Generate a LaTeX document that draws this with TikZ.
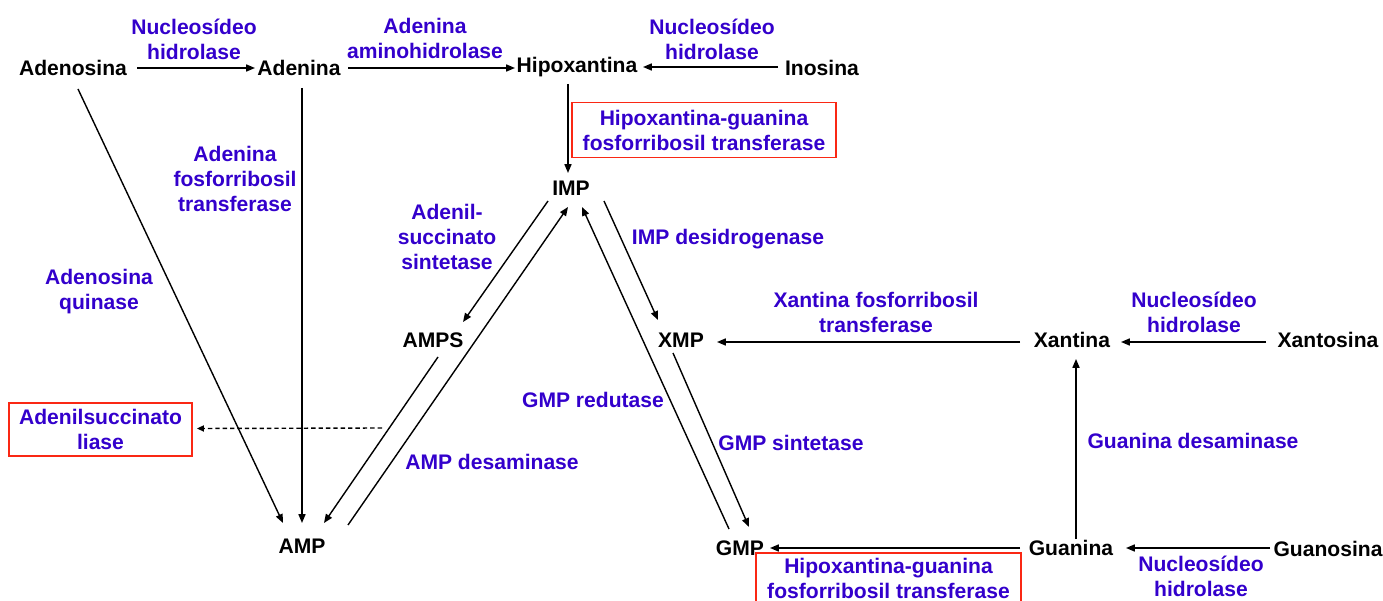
\documentclass[tikz,border=0pt]{standalone}
\usepackage{fontspec}
\setmainfont{Liberation Sans}
\usetikzlibrary{arrows.meta}
\definecolor{enz}{RGB}{51,0,204}
\definecolor{boxred}{RGB}{250,40,20}
\begin{document}
\begin{tikzpicture}[x=0.02cm,y=-0.02cm,
  met/.style={font=\fontsize{12}{14.2}\selectfont\bfseries, text=black, inner sep=0pt},
  enzlabel/.style={font=\fontsize{12}{14.2}\selectfont\bfseries, text=enz, align=center, inner sep=0pt},
  redbox/.style={enzlabel, draw=boxred, line width=1.1pt},
  conn/.style={line width=0.8pt, -{Triangle[length=5pt,width=4pt]}},
  dashconn/.style={line width=0.8pt, dash pattern=on 2.5pt off 1.7pt, -{Triangle[length=4pt,width=3.5pt]}}]
\clip (0,0) rectangle (1383,601);
\useasboundingbox (0,0) rectangle (1383,601);
% metabolites
\node[met] (Adenosina) at (73,68) {Adenosina};
\node[met] (Adenina) at (299,68) {Adenina};
\node[met] (Hipoxantina) at (577,67) {Hipoxantina};
\node[met] (Inosina) at (822,68) {Inosina};
\node[met] (IMP) at (571,188) {IMP};
\node[met] (AMPS) at (433,340) {AMPS};
\node[met] (XMP) at (681,340) {XMP};
\node[met] (AMP) at (302,546) {AMP};
\node[met] (GMP) at (740,548) {GMP};
\node[met] (Xantina) at (1072,340) {Xantina};
\node[met] (Xantosina) at (1328,340) {Xantosina};
\node[met] (Guanina) at (1071,548) {Guanina};
\node[met] (Guanosina) at (1328,549) {Guanosina};
% enzyme labels
\node[enzlabel] (L1) at (194,39) {Nucleosídeo\\hidrolase};
\node[enzlabel] (L2) at (425,38) {Adenina\\aminohidrolase};
\node[enzlabel] (L3) at (712,39) {Nucleosídeo\\hidrolase};
\node[enzlabel] (L4) at (235,179) {Adenina\\fosforribosil\\transferase};
\node[enzlabel] (L5) at (99,292) {Adenosina\\quinase};
\node[enzlabel] (L6) at (447,237) {Adenil-\\succinato\\sintetase};
\node[enzlabel] (L7) at (728,239) {IMP desidrogenase};
\node[enzlabel] (L8) at (876,312) {Xantina fosforribosil\\transferase};
\node[enzlabel] (L9) at (1194,312) {Nucleosídeo\\hidrolase};
\node[enzlabel] (L10) at (593,400) {GMP redutase};
\node[enzlabel] (L11) at (791,443) {GMP sintetase};
\node[enzlabel] (L12) at (1193,441) {Guanina desaminase};
\node[enzlabel] (L13) at (492,462) {AMP desaminase};
\node[enzlabel] (L14) at (1201,576) {Nucleosídeo\\hidrolase};
% red boxes
\node[redbox, minimum width=5.28cm, minimum height=1.1cm] (HGPRT1) at (704,130) {Hipoxantina-guanina\\fosforribosil transferase};
\node[redbox, minimum width=3.66cm, minimum height=1.06cm] (liase) at (100.5,429.5) {Adenilsuccinato\\liase};
\node[redbox, minimum width=5.3cm, minimum height=1.0cm] (HGPRT2) at (888.5,578) {Hipoxantina-guanina\\fosforribosil transferase};
\coordinate (dashstart) at (382,428);
% connectors
\draw[conn] ([shift={(64,0)}]Adenosina.center) -- ([shift={(-44,0)}]Adenina.center);
\draw[conn] ([shift={(49,0)}]Adenina.center) -- ([shift={(-62,1)}]Hipoxantina.center);
\draw[conn] ([shift={(-44,-1)}]Inosina.center) -- ([shift={(66,0)}]Hipoxantina.center);
\draw[conn] ([shift={(-9,17)}]Hipoxantina.center) -- ([shift={(-3,-15)}]IMP.center);
\draw[conn] ([shift={(5,21)}]Adenosina.center) -- ([shift={(-19,-23)}]AMP.center);
\draw[conn] ([shift={(3,20)}]Adenina.center) -- ([shift={(0,-23)}]AMP.center);
\draw[conn] ([shift={(-23,13)}]IMP.center) -- ([shift={(30,-18)}]AMPS.center);
\draw[conn] ([shift={(46,-21)}]AMP.center) -- ([shift={(-3,19)}]IMP.center);
\draw[conn] ([shift={(5,17)}]AMPS.center) -- ([shift={(22,-23)}]AMP.center);
\draw[conn] ([shift={(-11,-19)}]GMP.center) -- ([shift={(11,19)}]IMP.center);
\draw[conn] ([shift={(33,13)}]IMP.center) -- ([shift={(-23,-20)}]XMP.center);
\draw[conn] ([shift={(-8,13)}]XMP.center) -- ([shift={(9,-21)}]GMP.center);
\draw[conn] ([shift={(-52,2)}]Xantina.center) -- ([shift={(36,2)}]XMP.center);
\draw[conn] ([shift={(-62,2)}]Xantosina.center) -- ([shift={(49,2)}]Xantina.center);
\draw[conn] ([shift={(5,-9)}]Guanina.center) -- ([shift={(4,19)}]Xantina.center);
\draw[conn] ([shift={(-51,0)}]Guanina.center) -- ([shift={(30,0)}]GMP.center);
\draw[conn] ([shift={(-58,-1)}]Guanosina.center) -- ([shift={(55,0)}]Guanina.center);
\draw[dashconn] (dashstart) -- ([shift={(4,-1)}]liase.east);
\end{tikzpicture}
\end{document}
